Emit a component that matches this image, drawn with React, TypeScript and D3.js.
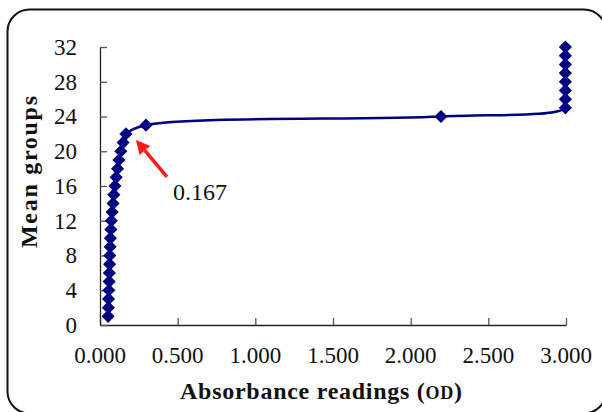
import { useEffect, useRef } from "react";
import * as d3 from "d3";

const W = 602;
const H = 412;
const MARGIN = { top: 47, right: 36, bottom: 87, left: 100 };

// mean groups (y) and absorbance readings (x)
const meanGroups = [
  1, 2, 3, 4, 5, 6, 7, 8, 9, 10, 11, 12, 13, 14, 15, 16, 17, 18, 19, 20, 21, 22, 23, 24, 25,
  26, 27, 28, 29, 30, 31, 32,
];
const absorbance = [
  0.052, 0.054, 0.055, 0.057, 0.059, 0.06, 0.062, 0.063, 0.065, 0.067, 0.07, 0.073, 0.078,
  0.084, 0.089, 0.096, 0.104, 0.113, 0.122, 0.134, 0.149, 0.167, 0.296, 2.195, 2.996, 2.996,
  2.996, 2.996, 2.996, 2.996, 2.996, 2.996,
];
const xTicks = [0, 0.5, 1, 1.5, 2, 2.5, 3];
const yTicks = [0, 4, 8, 12, 16, 20, 24, 28, 32];
const annotation = { x: 0.167, y: 22, label: "0.167" };

const FONT = "'Liberation Serif', 'Times New Roman', serif";

export default function App() {
  const axesRef = useRef<SVGGElement>(null);
  const boundsWidth = W - MARGIN.left - MARGIN.right;
  const boundsHeight = H - MARGIN.top - MARGIN.bottom;

  const xScale = d3.scaleLinear().domain([0, 3]).range([0, boundsWidth]);
  const yScale = d3.scaleLinear().domain([0, 32]).range([boundsHeight, 0]);

  const data = meanGroups.map((y, i) => ({ x: absorbance[i], y }));

  // axes drawn by d3, ticks pointing inside like Excel
  useEffect(() => {
    const g = d3.select(axesRef.current);
    g.selectAll("*").remove();

    const xAxis = g
      .append("g")
      .attr("transform", `translate(0,${boundsHeight})`)
      .call(
        d3
          .axisTop(xScale)
          .tickValues(xTicks)
          .tickSize(7)
          .tickFormat(() => "")
          .tickSizeOuter(0)
      );
    xAxis.select(".domain").attr("stroke", "#222").attr("stroke-width", 1.3);
    xAxis.selectAll(".tick line").attr("stroke", "#555").attr("stroke-width", 1.3);

    const yAxis = g
      .append("g")
      .call(
        d3
          .axisRight(yScale)
          .tickValues(yTicks)
          .tickSize(7)
          .tickFormat(() => "")
          .tickSizeOuter(0)
      );
    yAxis.select(".domain").attr("stroke", "#222").attr("stroke-width", 1.3);
    yAxis.selectAll(".tick line").attr("stroke", "#555").attr("stroke-width", 1.3);
  }, [xScale, yScale, boundsHeight]);

  const linePath = d3
    .line<{ x: number; y: number }>()
    .x((d) => xScale(d.x))
    .y((d) => yScale(d.y))
    .curve(d3.curveCatmullRom.alpha(0.5))(data);

  const diamond = d3.symbol().type(d3.symbolDiamond2).size(110)();

  // arrow pointing at the 0.167 point
  const ax = xScale(annotation.x);
  const ay = yScale(annotation.y);
  const tip = { x: ax + 10, y: ay + 6 };
  const tail = { x: ax + 41, y: ay + 43 };
  const ang = Math.atan2(tip.y - tail.y, tip.x - tail.x);
  const hl = 14;
  const hw = 7;
  const bx = tip.x - hl * Math.cos(ang);
  const by = tip.y - hl * Math.sin(ang);
  const px = -Math.sin(ang);
  const py = Math.cos(ang);

  return (
    <svg
      width={W}
      height={H}
      style={{ position: "absolute", left: 0, top: 0, background: "#fff" }}
    >
      <rect x={7.5} y={9.5} width={598.5} height={404} rx={22} ry={22} fill="#fff" stroke="#111" strokeWidth={2} />
      <g transform={`translate(${MARGIN.left},${MARGIN.top})`}>
        <g ref={axesRef} />
        {yTicks.map((t) => (
          <text
            key={"y" + t}
            x={-23}
            y={yScale(t)}
            dy="0.34em"
            textAnchor="end"
            fontFamily={FONT}
            fontSize={23}
            fill="#111"
          >
            {t}
          </text>
        ))}
        {xTicks.map((t) => (
          <text
            key={"x" + t}
            x={xScale(t)}
            y={boundsHeight + 38}
            textAnchor="middle"
            fontFamily={FONT}
            fontSize={23}
            fill="#111"
          >
            {t.toFixed(3)}
          </text>
        ))}
        <path d={linePath ?? ""} fill="none" stroke="#000080" strokeWidth={2.5} />
        {data.map((d, i) => (
          <path
            key={i}
            d={diamond ?? ""}
            transform={`translate(${xScale(d.x)},${yScale(d.y)})`}
            fill="#000080"
          />
        ))}
        <line x1={tail.x} y1={tail.y} x2={bx} y2={by} stroke="#ff1a1a" strokeWidth={3.5} />
        <polygon
          points={`${tip.x},${tip.y} ${bx + px * hw},${by + py * hw} ${bx - px * hw},${by - py * hw}`}
          fill="#ff1a1a"
        />
        <text x={ax + 47} y={ay + 66} fontFamily={FONT} fontSize={24} fill="#111">
          {annotation.label}
        </text>
      </g>
      <text
        x={321}
        y={399}
        textAnchor="middle"
        fontFamily={FONT}
        fontWeight="bold"
        fontSize={24}
        fill="#111"
        textLength={282}
        lengthAdjust="spacing"
      >
        Absorbance readings (<tspan fontSize={18}>OD</tspan>)
      </text>
      <text
        transform="translate(37,172) rotate(-90)"
        textAnchor="middle"
        fontFamily={FONT}
        fontWeight="bold"
        fontSize={24}
        fill="#111"
        textLength={152}
        lengthAdjust="spacing"
      >
        Mean groups
      </text>
    </svg>
  );
}
